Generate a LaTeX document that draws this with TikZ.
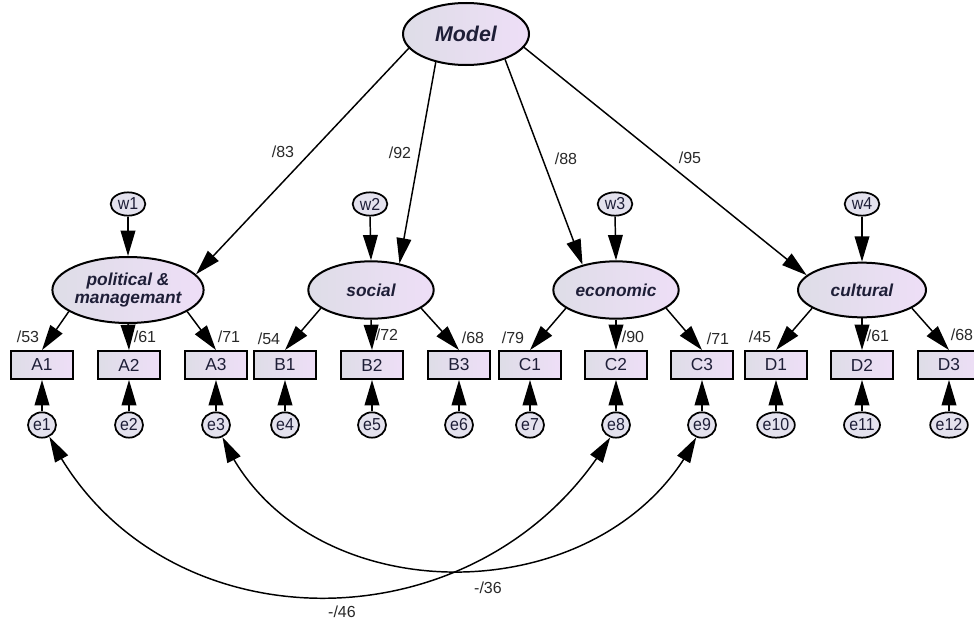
\documentclass[tikz,border=0pt]{standalone}
\usepackage{fontspec}
\setmainfont{Liberation Sans}
\newfontfamily\condsans[FakeStretch=0.92]{Liberation Sans}
\usetikzlibrary{shapes.geometric,arrows.meta,bending}
\definecolor{lavL}{RGB}{222,221,231}
\definecolor{lavR}{RGB}{238,222,247}
\definecolor{errfill}{RGB}{228,226,238}
\definecolor{txt}{RGB}{30,30,55}
\definecolor{lbl}{RGB}{40,40,40}
\begin{document}
\begin{tikzpicture}[x=0.75pt,y=-0.75pt,
 latent/.style={ellipse,draw=black,line width=1.5pt,left color=lavL,right color=lavR,inner sep=0pt,
   font=\fontsize{13}{13.5}\selectfont\bfseries\itshape,text=txt,align=center},
 obs/.style={rectangle,draw=black,line width=1.4pt,left color=lavL,right color=lavR,
   minimum width=46pt,minimum height=21pt,inner sep=0pt,font=\fontsize{13}{13}\selectfont,text=txt},
 err/.style={ellipse,draw=black,line width=1.3pt,fill=errfill,minimum width=21pt,minimum height=19pt,
   inner sep=0pt,font=\condsans\fontsize{13}{13}\selectfont,text=txt},
 wvar/.style={err,minimum width=26pt,minimum height=17.5pt},
 pth/.style={line width=1.1pt,-{Triangle[length=19pt,width=11pt]}},
 cov/.style={line width=1.1pt,{Triangle[length=19pt,width=11pt]}-{Triangle[length=19pt,width=11pt]}},
 lab/.style={font=\fontsize{12}{13}\selectfont,text=lbl,inner sep=0pt}
]
\useasboundingbox (0,0) rectangle (974,621);

% latent variables
\node[latent,minimum width=94.5pt,minimum height=46.5pt,font=\fontsize{16}{17}\selectfont\bfseries\itshape] (M) at (466,34) {Model};
\node[latent,minimum width=104pt,minimum height=49.5pt] (P) at (128,290) {political \&\\managemant};
\node[latent,minimum width=94pt,minimum height=43pt] (S) at (371,290) {social};
\node[latent,minimum width=94pt,minimum height=43pt] (E) at (616,290) {economic};
\node[latent,minimum width=96pt,minimum height=41pt] (C) at (862,290) {cultural};

% disturbances
\node[wvar] (w1) at (128,204) {w1};
\node[wvar] (w2) at (370,204) {w2};
\node[wvar] (w3) at (615,204) {w3};
\node[wvar] (w4) at (862,204) {w4};

% observed
\foreach \n/\x in {A1/42,A2/129,A3/216,B1/285,B2/372,B3/459,C1/530,C2/616,C3/702,D1/776,D2/862,D3/949}{
  \node[obs] (\n) at (\x,365) {\n};
}
% errors
\foreach \n/\x/\b in {e1/42/A1,e2/129/A2,e3/216/A3,e4/285/B1,e5/372/B2,e6/459/B3,e7/530/C1,e8/616/C2,e9/702/C3,e10/776/D1,e11/862/D2,e12/949/D3}{
  \node[err] (\n) at (\x,425) {\n};
  \draw[pth] (\n.north) -- (\b.south);
}

% structural paths
\draw[pth] (M.194) -- (P.13);
\draw[pth] (M.223) -- (S.43);
\draw[pth] (M.-33) -- (E.143);
\draw[pth] (M.-13) -- (C.165);

% disturbance arrows
\draw[pth] (w1.south) -- (P.north);
\draw[pth] (w2.south) -- (S.north);
\draw[pth] (w3.south) -- (E.north);
\draw[pth] (w4.south) -- (C.north);

% loadings
\draw[pth] (P.200) -- (A1.north);
\draw[pth] (P.south) -- (A2.north);
\draw[pth] (P.-20) -- (A3.north);
\draw[pth] (S.200) -- (B1.north);
\draw[pth] (S.south) -- (B2.north);
\draw[pth] (S.-20) -- (B3.north);
\draw[pth] (E.200) -- (C1.north);
\draw[pth] (E.south) -- (C2.north);
\draw[pth] (E.-20) -- (C3.north);
\draw[pth] (C.200) -- (D1.north);
\draw[pth] (C.south) -- (D2.north);
\draw[pth] (C.-20) -- (D3.north);

% covariances
\draw[cov] (e1.-58) .. controls (157,652) and (483,652) .. (e8.-115);
\draw[cov] (e3.-62) .. controls (301,617) and (607,617) .. (e9.-115);

% labels
\node[lab] (p83) at (283,152) {/83};
\node[lab] (p92) at (400,153) {/92};
\node[lab] (p88) at (566,159) {/88};
\node[lab] (p95) at (690,158) {/95};

\node[lab] (l1) at (28,337) {/53};
\node[lab] (l2) at (145,337) {/61};
\node[lab] (l3) at (229,337) {/71};
\node[lab] (l4) at (269,339) {/54};
\node[lab] (l5) at (387,335) {/72};
\node[lab] (l6) at (473,338) {/68};
\node[lab] (l7) at (513,338) {/79};
\node[lab] (l8) at (633,337) {/90};
\node[lab] (l9) at (718,339) {/71};
\node[lab] (l10) at (760,337) {/45};
\node[lab] (l11) at (878,336) {/61};
\node[lab] (l12) at (962,335) {/68};

\node[lab] (c46) at (342,612) {-/46};
\node[lab] (c36) at (488,588) {-/36};
\end{tikzpicture}
\end{document}
